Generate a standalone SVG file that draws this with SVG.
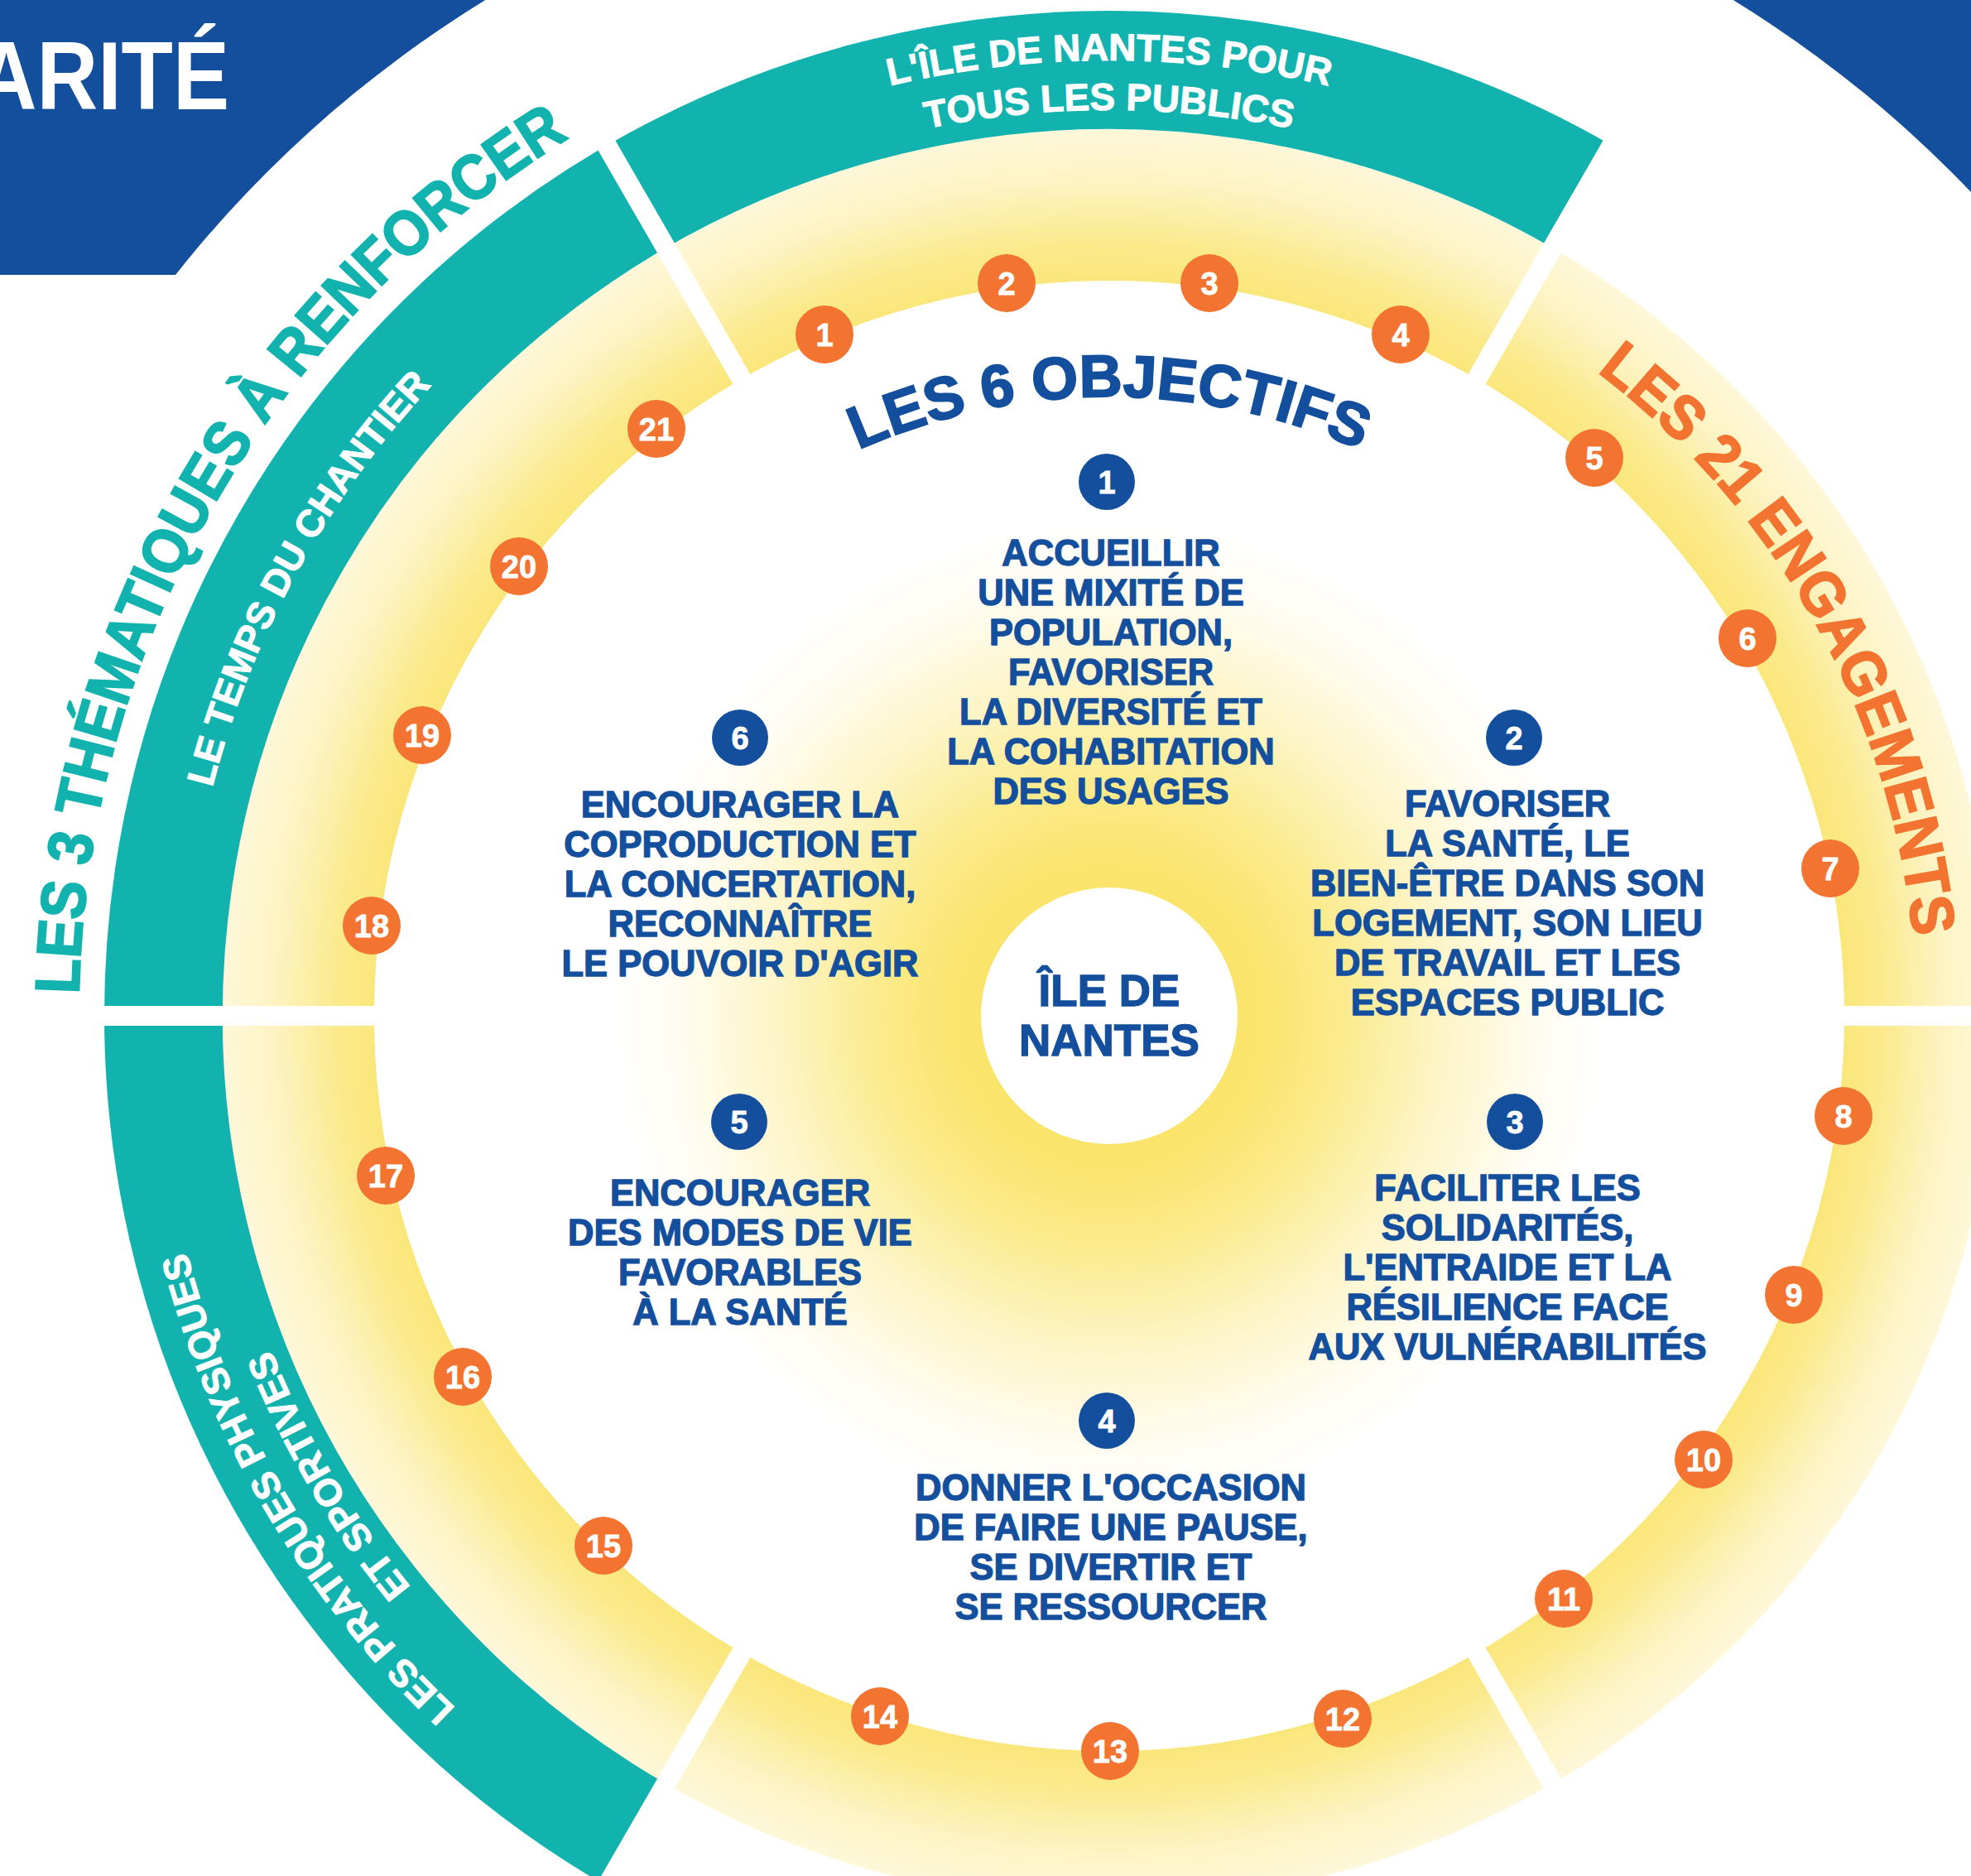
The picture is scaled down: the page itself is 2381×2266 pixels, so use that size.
<svg xmlns="http://www.w3.org/2000/svg" width="2381" height="2266" viewBox="0 0 2381 2266">
<defs>
<style>
.t{font-family:"Liberation Sans",Arial,sans-serif;font-weight:bold}
.obj{font-family:"Liberation Sans",Arial,sans-serif;font-weight:bold;font-size:43.5px;fill:#134F9D;stroke:#134F9D;stroke-width:1.3px;text-anchor:middle}
.num{font-family:"Liberation Sans",Arial,sans-serif;font-weight:bold;font-size:38px;fill:#fff;stroke:#fff;stroke-width:0.8px;text-anchor:middle}
.ob{fill:#F27430}
.bb{fill:#134F9D}
.teal{font-family:"Liberation Sans",Arial,sans-serif;font-weight:bold;font-size:46px;fill:#fff;stroke:#fff;stroke-width:1px}
.gap{stroke:#fff;stroke-width:24;fill:none}
</style>
<radialGradient id="glow" gradientUnits="userSpaceOnUse" cx="1340" cy="1227" r="600">
<stop offset="0" stop-color="#F9E466"/>
<stop offset="0.3" stop-color="#FAE46C"/>
<stop offset="0.45" stop-color="#FBEA88"/>
<stop offset="0.68" stop-color="#FDF5C9"/>
<stop offset="0.88" stop-color="#FFFDF3"/>
<stop offset="1" stop-color="#FFFFFF"/>
</radialGradient>
<radialGradient id="ring" gradientUnits="userSpaceOnUse" cx="1340" cy="1227" r="1072">
<stop offset="0.82" stop-color="#FAE677"/>
<stop offset="0.87" stop-color="#FBEA8C"/>
<stop offset="0.94" stop-color="#FDF3C2"/>
<stop offset="1" stop-color="#FEF8DA"/>
</radialGradient>
<path id="pTop1" d="M203.5,1026.6 A1154,1154 0 0 1 2476.5,1026.6"/>
<path id="pTop2" d="M262.6,1037.0 A1094,1094 0 0 1 2417.4,1037.0"/>
<path id="pChan" d="M642.3,2100.6 A1118,1118 0 0 1 1696.6,167.4"/>
<path id="pPra1" d="M1742.7,2304.2 A1150,1150 0 0 1 593.1,352.5"/>
<path id="pPra2" d="M1721.7,2248.0 A1090,1090 0 0 1 632.1,398.2"/>
<path id="pThem" d="M543.1,2183.5 A1245,1245 0 0 1 1761.7,55.6"/>
<path id="pEng" d="M1018.2,305.6 A976,976 0 0 1 1957.4,1982.9"/>
<path id="pObj" d="M603.4,1097.1 A748,748 0 0 1 2076.6,1097.1"/>
</defs>
<rect x="0" y="0" width="2381" height="2266" fill="#fff"/>
<g id="banner">
<rect x="0" y="0" width="2381" height="332" fill="#134F9D"/>
<circle cx="1340" cy="1227" r="1440" fill="#fff"/>
<text class="t" font-size="116" fill="#fff" text-anchor="end" transform="translate(277,132) scale(0.88,1)">ARITÉ</text>
</g>
<g id="glow-area">
<circle cx="1340" cy="1227" r="600" fill="url(#glow)"/>
</g>
<g id="ring-segments">
<circle cx="1340" cy="1227" r="979.5" fill="none" stroke="url(#ring)" stroke-width="183"/>
<path d="M768.75,2216.44 A1142.5,1142.5 0 0 1 350.56,655.75 A1142.5,1142.5 0 0 1 1911.25,237.56" fill="none" stroke="#12B3AE" stroke-width="143"/>
</g>
<g id="connectors">
<line class="gap" x1="2220" y1="1227" x2="2570" y2="1227"/>
<line class="gap" x1="1780" y1="1989.1" x2="1951" y2="2285.2"/>
<line class="gap" x1="900" y1="1989.1" x2="729" y2="2285.2"/>
<line class="gap" x1="460" y1="1227" x2="118" y2="1227"/>
<line class="gap" x1="900" y1="464.9" x2="729" y2="168.8"/>
<line class="gap" x1="1780" y1="464.9" x2="1951" y2="168.8"/>
</g>
<g id="arc-labels">
<text class="teal"><textPath href="#pTop1" startOffset="50%" text-anchor="middle">L'ÎLE DE NANTES POUR</textPath></text>
<text class="teal"><textPath href="#pTop2" startOffset="50%" text-anchor="middle">TOUS LES PUBLICS</textPath></text>
<text class="teal"><textPath href="#pChan" startOffset="50%" text-anchor="middle">LE TEMPS DU CHANTIER</textPath></text>
<text class="teal"><textPath href="#pPra1" startOffset="50%" text-anchor="middle">LES PRATIQUES PHYSIQUES</textPath></text>
<text class="teal"><textPath href="#pPra2" startOffset="50%" text-anchor="middle">ET SPORTIVES</textPath></text>
<text class="t" font-size="76" fill="#12B3AE" stroke="#12B3AE" stroke-width="2"><textPath href="#pThem" startOffset="50%" text-anchor="middle" textLength="1243" lengthAdjust="spacingAndGlyphs">LES 3 THÉMATIQUES À RENFORCER</textPath></text>
<text class="t" font-size="74" fill="#F27430" stroke="#F27430" stroke-width="2"><textPath href="#pEng" startOffset="50%" text-anchor="middle" textLength="805" lengthAdjust="spacingAndGlyphs">LES 21 ENGAGEMENTS</textPath></text>
<text class="t" font-size="72" fill="#134F9D" stroke="#134F9D" stroke-width="2"><textPath href="#pObj" startOffset="50%" text-anchor="middle">LES 6 OBJECTIFS</textPath></text>
</g>
<g id="engagements">
<g id="e1"><circle class="ob" cx="996" cy="404" r="35"/><text class="num" x="996" y="418">1</text></g>
<g id="e2"><circle class="ob" cx="1216" cy="342" r="35"/><text class="num" x="1216" y="356">2</text></g>
<g id="e3"><circle class="ob" cx="1461" cy="342" r="35"/><text class="num" x="1461" y="356">3</text></g>
<g id="e4"><circle class="ob" cx="1692" cy="404" r="35"/><text class="num" x="1692" y="418">4</text></g>
<g id="e5"><circle class="ob" cx="1926" cy="553" r="35"/><text class="num" x="1926" y="567">5</text></g>
<g id="e6"><circle class="ob" cx="2111" cy="771" r="35"/><text class="num" x="2111" y="785">6</text></g>
<g id="e7"><circle class="ob" cx="2211" cy="1049" r="35"/><text class="num" x="2211" y="1063">7</text></g>
<g id="e8"><circle class="ob" cx="2227" cy="1348" r="35"/><text class="num" x="2227" y="1362">8</text></g>
<g id="e9"><circle class="ob" cx="2167" cy="1564" r="35"/><text class="num" x="2167" y="1578">9</text></g>
<g id="e10"><circle class="ob" cx="2058" cy="1763" r="35"/><text class="num" x="2058" y="1777">10</text></g>
<g id="e11"><circle class="ob" cx="1889" cy="1931" r="35"/><text class="num" x="1889" y="1945">11</text></g>
<g id="e12"><circle class="ob" cx="1622" cy="2076" r="35"/><text class="num" x="1622" y="2090">12</text></g>
<g id="e13"><circle class="ob" cx="1341" cy="2115" r="35"/><text class="num" x="1341" y="2129">13</text></g>
<g id="e14"><circle class="ob" cx="1063" cy="2073" r="35"/><text class="num" x="1063" y="2087">14</text></g>
<g id="e15"><circle class="ob" cx="729" cy="1867" r="35"/><text class="num" x="729" y="1881">15</text></g>
<g id="e16"><circle class="ob" cx="559" cy="1663" r="35"/><text class="num" x="559" y="1677">16</text></g>
<g id="e17"><circle class="ob" cx="466" cy="1420" r="35"/><text class="num" x="466" y="1434">17</text></g>
<g id="e18"><circle class="ob" cx="449" cy="1118" r="35"/><text class="num" x="449" y="1132">18</text></g>
<g id="e19"><circle class="ob" cx="510" cy="888" r="35"/><text class="num" x="510" y="902">19</text></g>
<g id="e20"><circle class="ob" cx="627" cy="684" r="35"/><text class="num" x="627" y="698">20</text></g>
<g id="e21"><circle class="ob" cx="793" cy="518" r="35"/><text class="num" x="793" y="532">21</text></g>
</g>
<g id="objectif1">
<circle class="bb" cx="1337" cy="582" r="34"/><text class="num" x="1337" y="596">1</text>
<text class="obj" x="1342" y="683">ACCUEILLIR</text>
<text class="obj" x="1342" y="731">UNE MIXITÉ DE</text>
<text class="obj" x="1342" y="779">POPULATION,</text>
<text class="obj" x="1342" y="827">FAVORISER</text>
<text class="obj" x="1342" y="875">LA DIVERSITÉ ET</text>
<text class="obj" x="1342" y="923">LA COHABITATION</text>
<text class="obj" x="1342" y="971">DES USAGES</text>
</g>
<g id="objectif2">
<circle class="bb" cx="1829" cy="891" r="34"/><text class="num" x="1829" y="905">2</text>
<text class="obj" x="1821" y="986">FAVORISER</text>
<text class="obj" x="1821" y="1034">LA SANTÉ, LE</text>
<text class="obj" x="1821" y="1082">BIEN-ÊTRE DANS SON</text>
<text class="obj" x="1821" y="1130">LOGEMENT, SON LIEU</text>
<text class="obj" x="1821" y="1178">DE TRAVAIL ET LES</text>
<text class="obj" x="1821" y="1226">ESPACES PUBLIC</text>
</g>
<g id="objectif3">
<circle class="bb" cx="1830" cy="1355" r="34"/><text class="num" x="1830" y="1369">3</text>
<text class="obj" x="1821" y="1450">FACILITER LES</text>
<text class="obj" x="1821" y="1498">SOLIDARITÉS,</text>
<text class="obj" x="1821" y="1546">L'ENTRAIDE ET LA</text>
<text class="obj" x="1821" y="1594">RÉSILIENCE FACE</text>
<text class="obj" x="1821" y="1642">AUX VULNÉRABILITÉS</text>
</g>
<g id="objectif4">
<circle class="bb" cx="1337" cy="1716" r="34"/><text class="num" x="1337" y="1730">4</text>
<text class="obj" x="1342" y="1812">DONNER L'OCCASION</text>
<text class="obj" x="1342" y="1860">DE FAIRE UNE PAUSE,</text>
<text class="obj" x="1342" y="1908">SE DIVERTIR ET</text>
<text class="obj" x="1342" y="1956">SE RESSOURCER</text>
</g>
<g id="objectif5">
<circle class="bb" cx="893" cy="1355" r="34"/><text class="num" x="893" y="1369">5</text>
<text class="obj" x="894" y="1456">ENCOURAGER</text>
<text class="obj" x="894" y="1504">DES MODES DE VIE</text>
<text class="obj" x="894" y="1552">FAVORABLES</text>
<text class="obj" x="894" y="1600">À LA SANTÉ</text>
</g>
<g id="objectif6">
<circle class="bb" cx="894" cy="891" r="34"/><text class="num" x="894" y="905">6</text>
<text class="obj" x="894" y="987">ENCOURAGER LA</text>
<text class="obj" x="894" y="1035">COPRODUCTION ET</text>
<text class="obj" x="894" y="1083">LA CONCERTATION,</text>
<text class="obj" x="894" y="1131">RECONNAÎTRE</text>
<text class="obj" x="894" y="1179">LE POUVOIR D'AGIR</text>
</g>
<g id="centre">
<circle cx="1340" cy="1227" r="155" fill="#fff"/>
<text class="t" font-size="53" fill="#134F9D" stroke="#134F9D" stroke-width="1.3" text-anchor="middle" x="1340" y="1215">ÎLE DE</text>
<text class="t" font-size="53" fill="#134F9D" stroke="#134F9D" stroke-width="1.3" text-anchor="middle" x="1340" y="1275">NANTES</text>
</g>
</svg>
